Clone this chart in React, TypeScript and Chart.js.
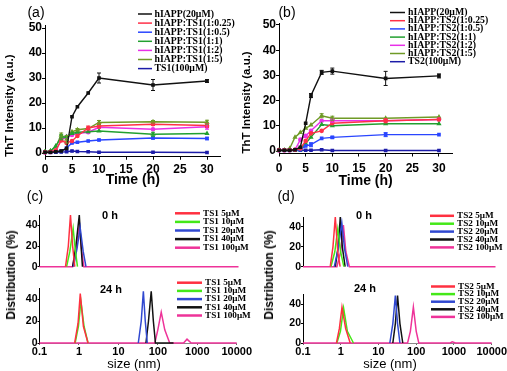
import React, { useEffect, useRef } from "react";
import { Chart, registerables } from "chart.js";

Chart.register(...registerables);

const SANS = "'Liberation Sans', Arial, sans-serif";
const SERIF = "'Liberation Serif', 'Times New Roman', serif";
Chart.defaults.font.family = SANS;
Chart.defaults.color = "#000";

// ---------------- ThT kinetics data: panels (a) and (b) ----------------
const TIME_H = [0, 1, 2, 3, 4, 5, 6, 8, 10, 20, 30];

const A_LABELS = [
  "hIAPP(20μM)",
  "hIAPP:TS1(1:0.25)",
  "hIAPP:TS1(1:0.5)",
  "hIAPP:TS1(1:1)",
  "hIAPP:TS1(1:2)",
  "hIAPP:TS1(1:5)",
  "TS1(100μM)",
];
const A_HIAPP = [0.3, 0.3, 0.5, 0.8, 1.8, 14.5, 18.5, 24, 30, 27.2, 28.8];
const A_R025 = [0.3, 0.4, 1, 5, 4, 4.8, 6.8, 10, 10.8, 11.5, 11];
const A_R05 = [0.3, 0.3, 0.5, 0.8, 2, 4, 4.3, 4.8, 5.2, 6, 5.8];
const A_R1 = [0.5, 0.8, 2.8, 6.3, 6.5, 7.8, 8.3, 8.5, 8.8, 7.5, 7.8];
const A_R2 = [0.3, 0.4, 1, 5.2, 6.5, 7.2, 7.8, 8.3, 10.3, 9.5, 10.5];
const A_R5 = [0.5, 0.8, 2.5, 7.2, 5.5, 8.5, 9.3, 9.8, 12.2, 12.5, 12.3];
const A_TS1 = [0.2, 0.2, 0.3, 0.4, 0.5, 0.8, 0.6, 0.5, 0.3, 0.3, 0.2];

const A_ERR_HIAPP = [0, 0, 0, 0, 0, 0, 0, 0, 2, 2.2, 0.6];
const A_ERR_R025 = [0, 0, 0, 0, 0, 0, 0, 0.8, 0.8, 0.5, 0.8];
const A_ERR_R05 = [0, 0, 0, 0, 0, 0, 0, 0, 0.3, 0.4, 0.5];
const A_ERR_R1 = [0, 0, 0, 1, 0, 0, 0, 0, 0, 0.8, 0];
const A_ERR_R2 = [0, 0, 0, 0, 0, 0, 0, 0, 0, 0, 1];
const A_ERR_R5 = [0, 0, 0, 0.8, 1.5, 0, 0.5, 0, 0.8, 0.5, 0.8];
const A_ERR_TS1 = [0, 0, 0, 0, 0, 0, 0, 0, 0, 0, 0];

const B_LABELS = [
  "hIAPP(20μM)",
  "hIAPP:TS2(1:0.25)",
  "hIAPP:TS2(1:0.5)",
  "hIAPP:TS2(1:1)",
  "hIAPP:TS2(1:2)",
  "hIAPP:TS2(1:5)",
  "TS2(100μM)",
];
const B_HIAPP = [0.3, 0.3, 0.3, 0.5, 1.5, 11, 22, 31.2, 31.7, 28.8, 29.8];
const B_R025 = [0.3, 0.3, 0.3, 0.5, 1, 4, 7, 8, 11, 12, 12.5];
const B_R05 = [0.2, 0.2, 0.2, 0.3, 0.5, 2, 2.5, 5, 5.4, 6.5, 6.5];
const B_R1 = [0.3, 0.3, 0.3, 0.3, 0.5, 3, 5.5, 10.5, 10, 10.8, 10.8];
const B_R2 = [0.3, 0.3, 0.3, 0.5, 4.5, 6, 8, 12, 12, 12, 12.5];
const B_R5 = [0.3, 0.3, 1, 5.5, 7.3, 9, 10.3, 14, 13, 13, 13.5];
const B_TS2 = [0.3, 0.3, 0.3, 0.3, 0.3, 0.3, 0.3, 0.5, 0.2, 0.2, 0.2];

const B_ERR_HIAPP = [0, 0, 0, 0, 0, 0, 0.8, 0.8, 1.2, 2.8, 0.8];
const B_ERR_R025 = [0, 0, 0, 0, 0, 0, 0, 0, 0, 0.8, 0];
const B_ERR_R05 = [0, 0, 0, 0, 0, 0, 0.8, 0, 0.4, 0.8, 0];
const B_ERR_R1 = [0, 0, 0, 0, 0, 0, 0, 0, 0, 0, 0];
const B_ERR_R2 = [0, 0, 0, 0, 0, 0, 0, 0, 0.6, 0, 0];
const B_ERR_R5 = [0, 0, 0, 0, 0, 0, 0, 0.8, 0.8, 0, 0];
const B_ERR_TS2 = [0, 0, 0, 0, 0, 0, 0, 0, 0, 0, 0];

const KIN_COLORS = ["#111111", "#ff3048", "#2a46ff", "#22a030", "#e830e8", "#6f9a26", "#1c1ca8"];
const KIN_MARKERS = ["rect", "circle", "rect", "triangle", "circle", "triangle", "rect"];

// ---------------- DLS data: panels (c) and (d), [size nm, distribution %] ----------------
const DLS_LABELS_C = ["TS1 5μM", "TS1 10μM", "TS1 20μM", "TS1 40μM", "TS1 100μM"];
const DLS_LABELS_D = ["TS2 5μM", "TS2 10μM", "TS2 20μM", "TS2 40μM", "TS2 100μM"];
const DLS_TICKS = [0.1, 1, 10, 100, 1000, 10000];
const DLS_COLORS = ["#ff3040", "#44e818", "#3048d0", "#111111", "#ee3399"];

const C0_5 = [[0.45, 0], [0.53, 20], [0.6, 50], [0.68, 20], [0.77, 0]];
const C0_10 = [[0.48, 0], [0.58, 15], [0.7, 37], [0.8, 15], [0.9, 0]];
const C0_20 = [[0.72, 0], [0.88, 18], [1.05, 38], [1.25, 15], [1.47, 0]];
const C0_40 = [[0.68, 0], [0.82, 20], [1.0, 50], [1.1, 22], [1.2, 0]];
const C0_100 = [[0.1, 0], [0.68, 0], [0.82, 15], [1.0, 40], [1.15, 15], [1.3, 0], [10000, 0]];

const C24_5 = [[0.78, 0], [0.95, 18], [1.08, 45], [1.3, 15], [1.7, 0]];
const C24_10 = [[0.8, 0], [0.97, 15], [1.12, 38], [1.35, 15], [1.7, 0]];
const C24_20 = [[32, 0], [38, 20], [43, 47], [48, 20], [54, 0]];
const C24_40 = [[50, 0], [58, 20], [68, 47], [77, 20], [87, 0], [250, 0]];
const C24_100 = [[0.1, 0], [84, 0], [100, 12], [122, 28], [150, 12], [200, 0], [450, 0], [550, 3.5], [700, 0], [10000, 0]];

const D0_5 = [[0.51, 0], [0.6, 20], [0.69, 50], [0.8, 15], [0.92, 0]];
const D0_10 = [[0.53, 0], [0.67, 15], [0.8, 38], [0.95, 15], [1.15, 0]];
const D0_20 = [[0.65, 0], [0.82, 18], [1.02, 44], [1.2, 18], [1.46, 0]];
const D0_40 = [[0.69, 0], [0.82, 20], [0.93, 50], [1.05, 20], [1.24, 0]];
const D0_100 = [[0.1, 0], [0.76, 0], [0.95, 15], [1.12, 42], [1.3, 15], [1.6, 0], [10000, 0]];

const D24_5 = [[0.77, 0], [0.92, 15], [1.08, 37], [1.35, 15], [1.78, 0]];
const D24_10 = [[0.79, 0], [0.98, 12], [1.19, 36], [1.5, 12], [2.17, 0]];
const D24_20 = [[20, 0], [24, 20], [28, 49], [32, 20], [37, 0]];
const D24_40 = [[24, 0], [28, 20], [32, 49], [37, 20], [44, 0]];
const D24_100 = [[0.1, 0], [59, 0], [70, 12], [84, 37], [100, 12], [117, 0], [800, 0], [900, 1.2], [1100, 0], [10000, 0]];

// ---------------- plugins ----------------
const errorBars = {
  id: "errorBars",
  afterDatasetsDraw(chart: any) {
    const ctx = chart.ctx;
    chart.data.datasets.forEach((ds: any, di: number) => {
      const errs = ds.errorBars;
      if (!errs) return;
      const meta = chart.getDatasetMeta(di);
      const ys = chart.scales[meta.yAxisID];
      ctx.save();
      ctx.strokeStyle = ds.borderColor;
      ctx.lineWidth = 1;
      meta.data.forEach((pt: any, i: number) => {
        const e = errs[i];
        if (!e) return;
        const v = ds.data[i].y;
        const y1 = ys.getPixelForValue(v + e);
        const y2 = ys.getPixelForValue(v - e);
        ctx.beginPath();
        ctx.moveTo(pt.x, y1);
        ctx.lineTo(pt.x, y2);
        ctx.moveTo(pt.x - 2, y1);
        ctx.lineTo(pt.x + 2, y1);
        ctx.moveTo(pt.x - 2, y2);
        ctx.lineTo(pt.x + 2, y2);
        ctx.stroke();
      });
      ctx.restore();
    });
  },
};

const miniLegend = {
  id: "miniLegend",
  afterDraw(chart: any, _args: any, opts: any) {
    const o = opts && opts.x !== undefined ? opts : chart.config.options.plugins?.miniLegend;
    if (!o || o.x === undefined) return;
    const ctx = chart.ctx;
    ctx.save();
    ctx.font = o.font;
    ctx.textBaseline = "middle";
    ctx.textAlign = "left";
    chart.data.datasets.forEach((ds: any, i: number) => {
      const y = o.y + i * o.rowH;
      ctx.strokeStyle = ds.borderColor;
      ctx.lineWidth = o.lineWidth;
      ctx.beginPath();
      ctx.moveTo(o.x, y);
      ctx.lineTo(o.x + o.lineLen, y);
      ctx.stroke();
      ctx.fillStyle = "#000";
      ctx.fillText(ds.label, o.x + o.lineLen + o.gap, y);
    });
    ctx.restore();
  },
};

// ---------------- config builders ----------------
function kineticsConfig(p: any) {
  return {
    type: "line",
    data: {
      datasets: p.series.map((vals: number[], i: number) => ({
        label: p.labels[i],
        data: TIME_H.map((t, j) => ({ x: t, y: vals[j] })),
        borderColor: KIN_COLORS[i],
        backgroundColor: KIN_COLORS[i],
        borderWidth: 1.4,
        pointRadius: 1.6,
        pointStyle: KIN_MARKERS[i],
        tension: 0,
        errorBars: p.errors[i],
        clip: 4,
      })),
    },
    options: {
      responsive: false,
      animation: false,
      devicePixelRatio: 1,
      layout: { padding: p.padding },
      plugins: { legend: { display: false }, tooltip: { enabled: false }, miniLegend: p.legend },
      scales: {
        x: {
          type: "linear",
          min: 0,
          max: 32.5,
          afterFit: (s: any) => {
            s.height = p.xHeight;
          },
          ticks: {
            stepSize: 5,
            includeBounds: false,
            color: "#000",
            maxRotation: 0,
            padding: p.xTickPad,
            font: { family: SANS, size: 12, weight: "bold" },
          },
          grid: { display: true, drawOnChartArea: false, drawTicks: true, tickLength: 3, color: "#000" },
          border: { display: true, color: "#000", width: 1 },
          title: {
            display: true,
            text: "Time (h)",
            color: "#000",
            font: { family: SANS, size: 14, weight: "bold" },
            padding: { top: 0, bottom: p.xTitlePad },
          },
        },
        y: {
          type: "linear",
          min: p.yMin,
          max: p.yMax,
          afterFit: (s: any) => {
            s.width = p.yWidth;
          },
          ticks: {
            stepSize: 5,
            includeBounds: false,
            color: "#000",
            padding: 0,
            font: { family: SANS, size: 12, weight: "bold" },
          },
          grid: { display: true, drawOnChartArea: false, drawTicks: true, tickLength: 3, color: "#000" },
          border: { display: true, color: "#000", width: 1 },
          title: {
            display: true,
            text: "ThT Intensity (a.u.)",
            align: "start",
            color: "#000",
            font: { family: SANS, size: 11.5, weight: "bold" },
            padding: { top: p.yTitlePad, bottom: 0 },
          },
        },
      },
    },
    plugins: [errorBars, miniLegend],
  };
}

function dlsConfig(p: any) {
  return {
    type: "line",
    data: {
      datasets: p.series.map((pts: number[][], i: number) => ({
        label: p.labels[i],
        data: pts.map((q) => ({ x: q[0], y: q[1] })),
        borderColor: DLS_COLORS[i],
        backgroundColor: DLS_COLORS[i],
        borderWidth: 1.5,
        pointRadius: 0,
        tension: 0,
        clip: 4,
      })),
    },
    options: {
      responsive: false,
      animation: false,
      devicePixelRatio: 1,
      layout: { padding: p.padding },
      plugins: { legend: { display: false }, tooltip: { enabled: false }, miniLegend: p.legend },
      scales: {
        x: {
          type: "logarithmic",
          display: p.showX,
          min: 0.1,
          max: 10000,
          afterBuildTicks: (s: any) => {
            s.ticks = DLS_TICKS.map((v) => ({ value: v }));
          },
          afterFit: (s: any) => {
            s.height = p.xHeight;
          },
          ticks: {
            color: "#000",
            maxRotation: 0,
            autoSkip: false,
            padding: 0,
            font: { family: SANS, size: 11, weight: "bold" },
            callback: (v: any) => String(v),
          },
          grid: { display: true, drawOnChartArea: false, drawTicks: true, tickLength: 2, color: "#666" },
          border: { display: true, color: "#888", width: 1 },
        },
        y: {
          type: "linear",
          min: 0,
          max: 50,
          afterFit: (s: any) => {
            s.width = p.yWidth;
          },
          ticks: {
            stepSize: 10,
            color: "#000",
            padding: 0,
            font: { family: SANS, size: 10.5, weight: "bold" },
          },
          grid: { display: true, drawOnChartArea: false, drawTicks: true, tickLength: 2, color: "#000" },
          border: { display: true, color: "#000", width: 1 },
        },
      },
    },
    plugins: [miniLegend],
  };
}

// ---------------- components ----------------
function Panel({ left, top, width, height, make }: any) {
  const ref = useRef<HTMLCanvasElement | null>(null);
  useEffect(() => {
    const chart = new Chart(ref.current as HTMLCanvasElement, make());
    return () => chart.destroy();
  }, []);
  return (
    <canvas
      ref={ref}
      width={width}
      height={height}
      style={{ position: "absolute", left, top, width, height }}
    />
  );
}

function Label({ text, x, y, size, bold, rotate }: any) {
  return (
    <div
      style={{
        position: "absolute",
        left: x,
        top: y,
        transform: `translate(-50%, -50%)${rotate ? " rotate(-90deg)" : ""}`,
        fontFamily: SANS,
        fontSize: size,
        fontWeight: bold ? "bold" : "normal",
        whiteSpace: "nowrap",
        lineHeight: 1,
        color: "#000",
      }}
    >
      {text}
    </div>
  );
}

const kinLegendFont = `bold 9.8px ${SERIF}`;
const dlsLegendFont = `bold 9.2px ${SERIF}`;

export default function App() {
  return (
    <div
      style={{
        position: "fixed",
        left: 0,
        top: 0,
        width: 507,
        height: 371,
        background: "#fff",
        overflow: "hidden",
      }}
    >
      <Panel
        left={0}
        top={0}
        width={246}
        height={190}
        make={() =>
          kineticsConfig({
            labels: A_LABELS,
            series: [A_HIAPP, A_R025, A_R05, A_R1, A_R2, A_R5, A_TS1],
            errors: [A_ERR_HIAPP, A_ERR_R025, A_ERR_R05, A_ERR_R1, A_ERR_R2, A_ERR_R5, A_ERR_TS1],
            padding: { left: 0, top: 25.5, right: 25.5, bottom: 0 },
            yWidth: 45,
            xHeight: 33.25,
            yMin: -1.5,
            yMax: 51,
            xTickPad: 3,
            xTitlePad: 1,
            yTitlePad: 2.6,
            legend: { x: 138, y: 14, rowH: 9.1, lineLen: 14, gap: 2.5, lineWidth: 1.5, font: kinLegendFont },
          })
        }
      />
      <Panel
        left={236}
        top={0}
        width={271}
        height={190}
        make={() =>
          kineticsConfig({
            labels: B_LABELS,
            series: [B_HIAPP, B_R025, B_R05, B_R1, B_R2, B_R5, B_TS2],
            errors: [B_ERR_HIAPP, B_ERR_R025, B_ERR_R05, B_ERR_R1, B_ERR_R2, B_ERR_R5, B_ERR_TS2],
            padding: { left: 0, top: 23.74, right: 54.7, bottom: 0 },
            yWidth: 43,
            xHeight: 36.48,
            yMin: -1,
            yMax: 50.5,
            xTickPad: 5.3,
            xTitlePad: 0.1,
            yTitlePad: 4.1,
            legend: { x: 154, y: 12.5, rowH: 8.2, lineLen: 15, gap: 3, lineWidth: 1.5, font: kinLegendFont },
          })
        }
      />
      <Panel
        left={0}
        top={205}
        width={252}
        height={68}
        make={() =>
          dlsConfig({
            labels: DLS_LABELS_C,
            series: [C0_5, C0_10, C0_20, C0_40, C0_100],
            showX: false,
            padding: { left: 0, top: 10, right: 13.5, bottom: 5 },
            yWidth: 39.5,
            xHeight: 0,
            legend: { x: 175, y: 8.3, rowH: 8.6, lineLen: 25, gap: 3, lineWidth: 2.5, font: dlsLegendFont },
          })
        }
      />
      <Panel
        left={0}
        top={278}
        width={252}
        height={93}
        make={() =>
          dlsConfig({
            labels: DLS_LABELS_C,
            series: [C24_5, C24_10, C24_20, C24_40, C24_100],
            showX: true,
            padding: { left: 0, top: 10, right: 13.5, bottom: 0 },
            yWidth: 39.5,
            xHeight: 28,
            legend: { x: 177, y: 4.7, rowH: 8.2, lineLen: 25, gap: 3, lineWidth: 2.5, font: dlsLegendFont },
          })
        }
      />
      <Panel
        left={254}
        top={205}
        width={253}
        height={68}
        make={() =>
          dlsConfig({
            labels: DLS_LABELS_D,
            series: [D0_5, D0_10, D0_20, D0_40, D0_100],
            showX: false,
            padding: { left: 0, top: 12, right: 11.5, bottom: 6 },
            yWidth: 49,
            xHeight: 0,
            legend: { x: 176, y: 10.8, rowH: 7.9, lineLen: 24, gap: 3, lineWidth: 2.5, font: dlsLegendFont },
          })
        }
      />
      <Panel
        left={254}
        top={278}
        width={253}
        height={93}
        make={() =>
          dlsConfig({
            labels: DLS_LABELS_D,
            series: [D24_5, D24_10, D24_20, D24_40, D24_100],
            showX: true,
            padding: { left: 0, top: 16.5, right: 11.5, bottom: 0 },
            yWidth: 49,
            xHeight: 28,
            legend: { x: 177, y: 8.5, rowH: 7.6, lineLen: 24, gap: 3, lineWidth: 2.5, font: dlsLegendFont },
          })
        }
      />
      <Label text="(a)" x={36} y={12} size={14} />
      <Label text="(b)" x={287} y={12} size={14} />
      <Label text="(c)" x={35} y={196} size={14} />
      <Label text="(d)" x={286} y={196} size={14} />
      <Label text="0 h" x={110} y={215} size={11} bold />
      <Label text="24 h" x={111} y={289} size={11} bold />
      <Label text="0 h" x={364} y={215} size={11} bold />
      <Label text="24 h" x={365} y={288} size={11} bold />
      <Label text="Distribution (%)" x={11} y={275} size={12} bold rotate />
      <Label text="Distribution (%)" x={269} y={275} size={12} bold rotate />
      <Label text="size (nm)" x={134} y={363} size={13} />
      <Label text="size (nm)" x={390} y={363} size={13} />
    </div>
  );
}
